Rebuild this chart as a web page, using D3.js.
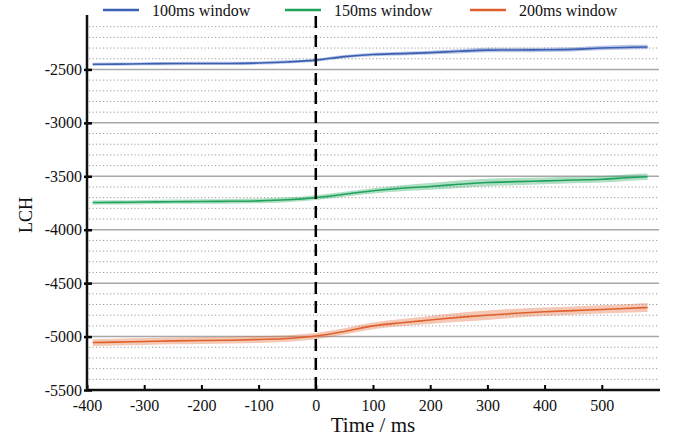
<!DOCTYPE html>
<html><head><meta charset="utf-8">
<script src="https://cdn.jsdelivr.net/npm/d3@7"></script>
<style>body{margin:0;background:#fff}svg{display:block}svg text{font-family:'Liberation Serif','Times New Roman',serif}</style>
</head><body><svg id="c" width="681" height="436"></svg>
<script>
const times = [-390,-350,-300,-250,-200,-150,-100,-50,0,50,100,150,200,250,300,350,400,450,500,550,580];
const series = ["100ms window","150ms window","200ms window"];
const colors = ["#3a5fb3","#1fa35b","#e0602c"];
const blueMean = [-2452,-2450,-2447,-2445,-2444,-2444,-2440,-2430,-2413,-2380,-2360,-2352,-2343,-2330,-2319,-2318,-2316,-2312,-2300,-2292,-2290];
const blueErr  = [15,15,15,15,15,15,15,15,14,15,16,17,18,20,21,21,20,20,21,22,22];
const greenMean = [-3746,-3744,-3741,-3738,-3736,-3734,-3730,-3720,-3700,-3668,-3636,-3612,-3595,-3575,-3558,-3550,-3543,-3535,-3528,-3512,-3505];
const greenErr  = [20,20,20,20,21,22,23,23,22,23,25,29,32,35,35,34,32,30,30,30,30];
const orangeMean = [-5056,-5052,-5046,-5040,-5037,-5034,-5027,-5018,-4995,-4952,-4900,-4870,-4845,-4820,-4800,-4782,-4768,-4757,-4746,-4735,-4728];
const orangeErr  = [32,32,32,32,32,32,32,31,29,29,31,34,38,42,44,42,40,38,38,40,42];
const xTicks = [-400,-300,-200,-100,0,100,200,300,400,500];
const yTicks = [-5500,-5000,-4500,-4000,-3500,-3000,-2500];
const yMinor = d3.range(-5400,-2000,100).filter(v => v % 500 !== 0);

const means = [blueMean, greenMean, orangeMean];
const errs = [blueErr, greenErr, orangeErr];

const svg = d3.select("#c");
const L = 87, R = 659, T = 16, B = 390;
const x = d3.scaleLinear().domain([-400,600]).range([L,R]);
const y = d3.scaleLinear().domain([-5500,-2000]).range([B,T]);
const font = "'Liberation Serif','Times New Roman',serif";
const fmt = d => String(d);

// minor dotted grid
svg.append("g").selectAll("line").data(yMinor).join("line")
  .attr("x1", L+2).attr("x2", R).attr("y1", d=>y(d)).attr("y2", d=>y(d))
  .attr("stroke","#9a9a9a").attr("stroke-width",1).attr("stroke-dasharray","1.2,2.3");
// major grid
svg.append("g").selectAll("line").data(yTicks.filter(v=>v>-5500)).join("line")
  .attr("x1", L).attr("x2", R).attr("y1", d=>y(d)).attr("y2", d=>y(d))
  .attr("stroke","#a8a8a8").attr("stroke-width",1.5);

// bands and lines
const area = (m,e) => d3.area().x((d,i)=>x(times[i])).y0((d,i)=>y(m[i]-e[i])).y1((d,i)=>y(m[i]+e[i])).curve(d3.curveMonotoneX);
const line = m => d3.line().x((d,i)=>x(times[i])).y((d,i)=>y(m[i])).curve(d3.curveMonotoneX);
means.forEach((m,k)=>{
  svg.append("path").attr("d", area(m,errs[k])(times)).attr("fill",colors[k]).attr("opacity",0.35);
  svg.append("path").attr("d", line(m)(times)).attr("fill","none").attr("stroke",colors[k]).attr("stroke-width",1.6);
});

// zero dashed line
svg.append("line").attr("x1",x(0)).attr("x2",x(0)).attr("y1",T).attr("y2",B)
  .attr("stroke","#000").attr("stroke-width",2.5).attr("stroke-dasharray","12,7");

// axes
const xAxis = svg.append("g").attr("transform",`translate(0,${B})`)
  .call(d3.axisBottom(x).tickValues(xTicks).tickSize(-5).tickPadding(10).tickFormat(fmt));
xAxis.attr("font-family",font).attr("font-size",16);
xAxis.select(".domain").remove();
xAxis.selectAll(".tick line").attr("stroke","#000").attr("stroke-width",2);
xAxis.selectAll("text").style("font-family",font).style("font-size","16px").attr("fill","#111");
svg.append("line").attr("x1",L-1).attr("x2",R+1).attr("y1",B).attr("y2",B).attr("stroke","#111").attr("stroke-width",2.5);

const yAxis = svg.append("g").attr("transform",`translate(${L},0)`)
  .call(d3.axisLeft(y).tickValues(yTicks).tickSize(3).tickPadding(2).tickFormat(fmt));
yAxis.attr("font-family",font).attr("font-size",16);
yAxis.select(".domain").remove();
yAxis.selectAll(".tick line").attr("x1",-3).attr("x2",5).attr("stroke","#000").attr("stroke-width",2.5);
yAxis.selectAll("text").style("font-family",font).style("font-size","16px").attr("fill","#111");
svg.append("line").attr("x1",L).attr("x2",L).attr("y1",T-1).attr("y2",B+1).attr("stroke","#111").attr("stroke-width",2.5);

// axis titles
svg.append("text").attr("x",(L+R)/2).attr("y",432).attr("text-anchor","middle")
  .style("font-family",font).style("font-size","21px").attr("fill","#111").text("Time / ms");
svg.append("text").attr("transform",`translate(32,${(T+B)/2+12}) rotate(-90)`).attr("text-anchor","middle")
  .style("font-family",font).style("font-size","18px").attr("fill","#111").text("LCH");

// legend
const legX = [103, 285, 470];
series.forEach((s,k)=>{
  svg.append("line").attr("x1",legX[k]).attr("x2",legX[k]+36).attr("y1",10).attr("y2",10)
    .attr("stroke",colors[k]).attr("stroke-width",2.5);
  svg.append("text").attr("x",legX[k]+49).attr("y",15.5).style("font-family",font).style("font-size","16px")
    .attr("fill","#111").text(s);
});
</script></body></html>
